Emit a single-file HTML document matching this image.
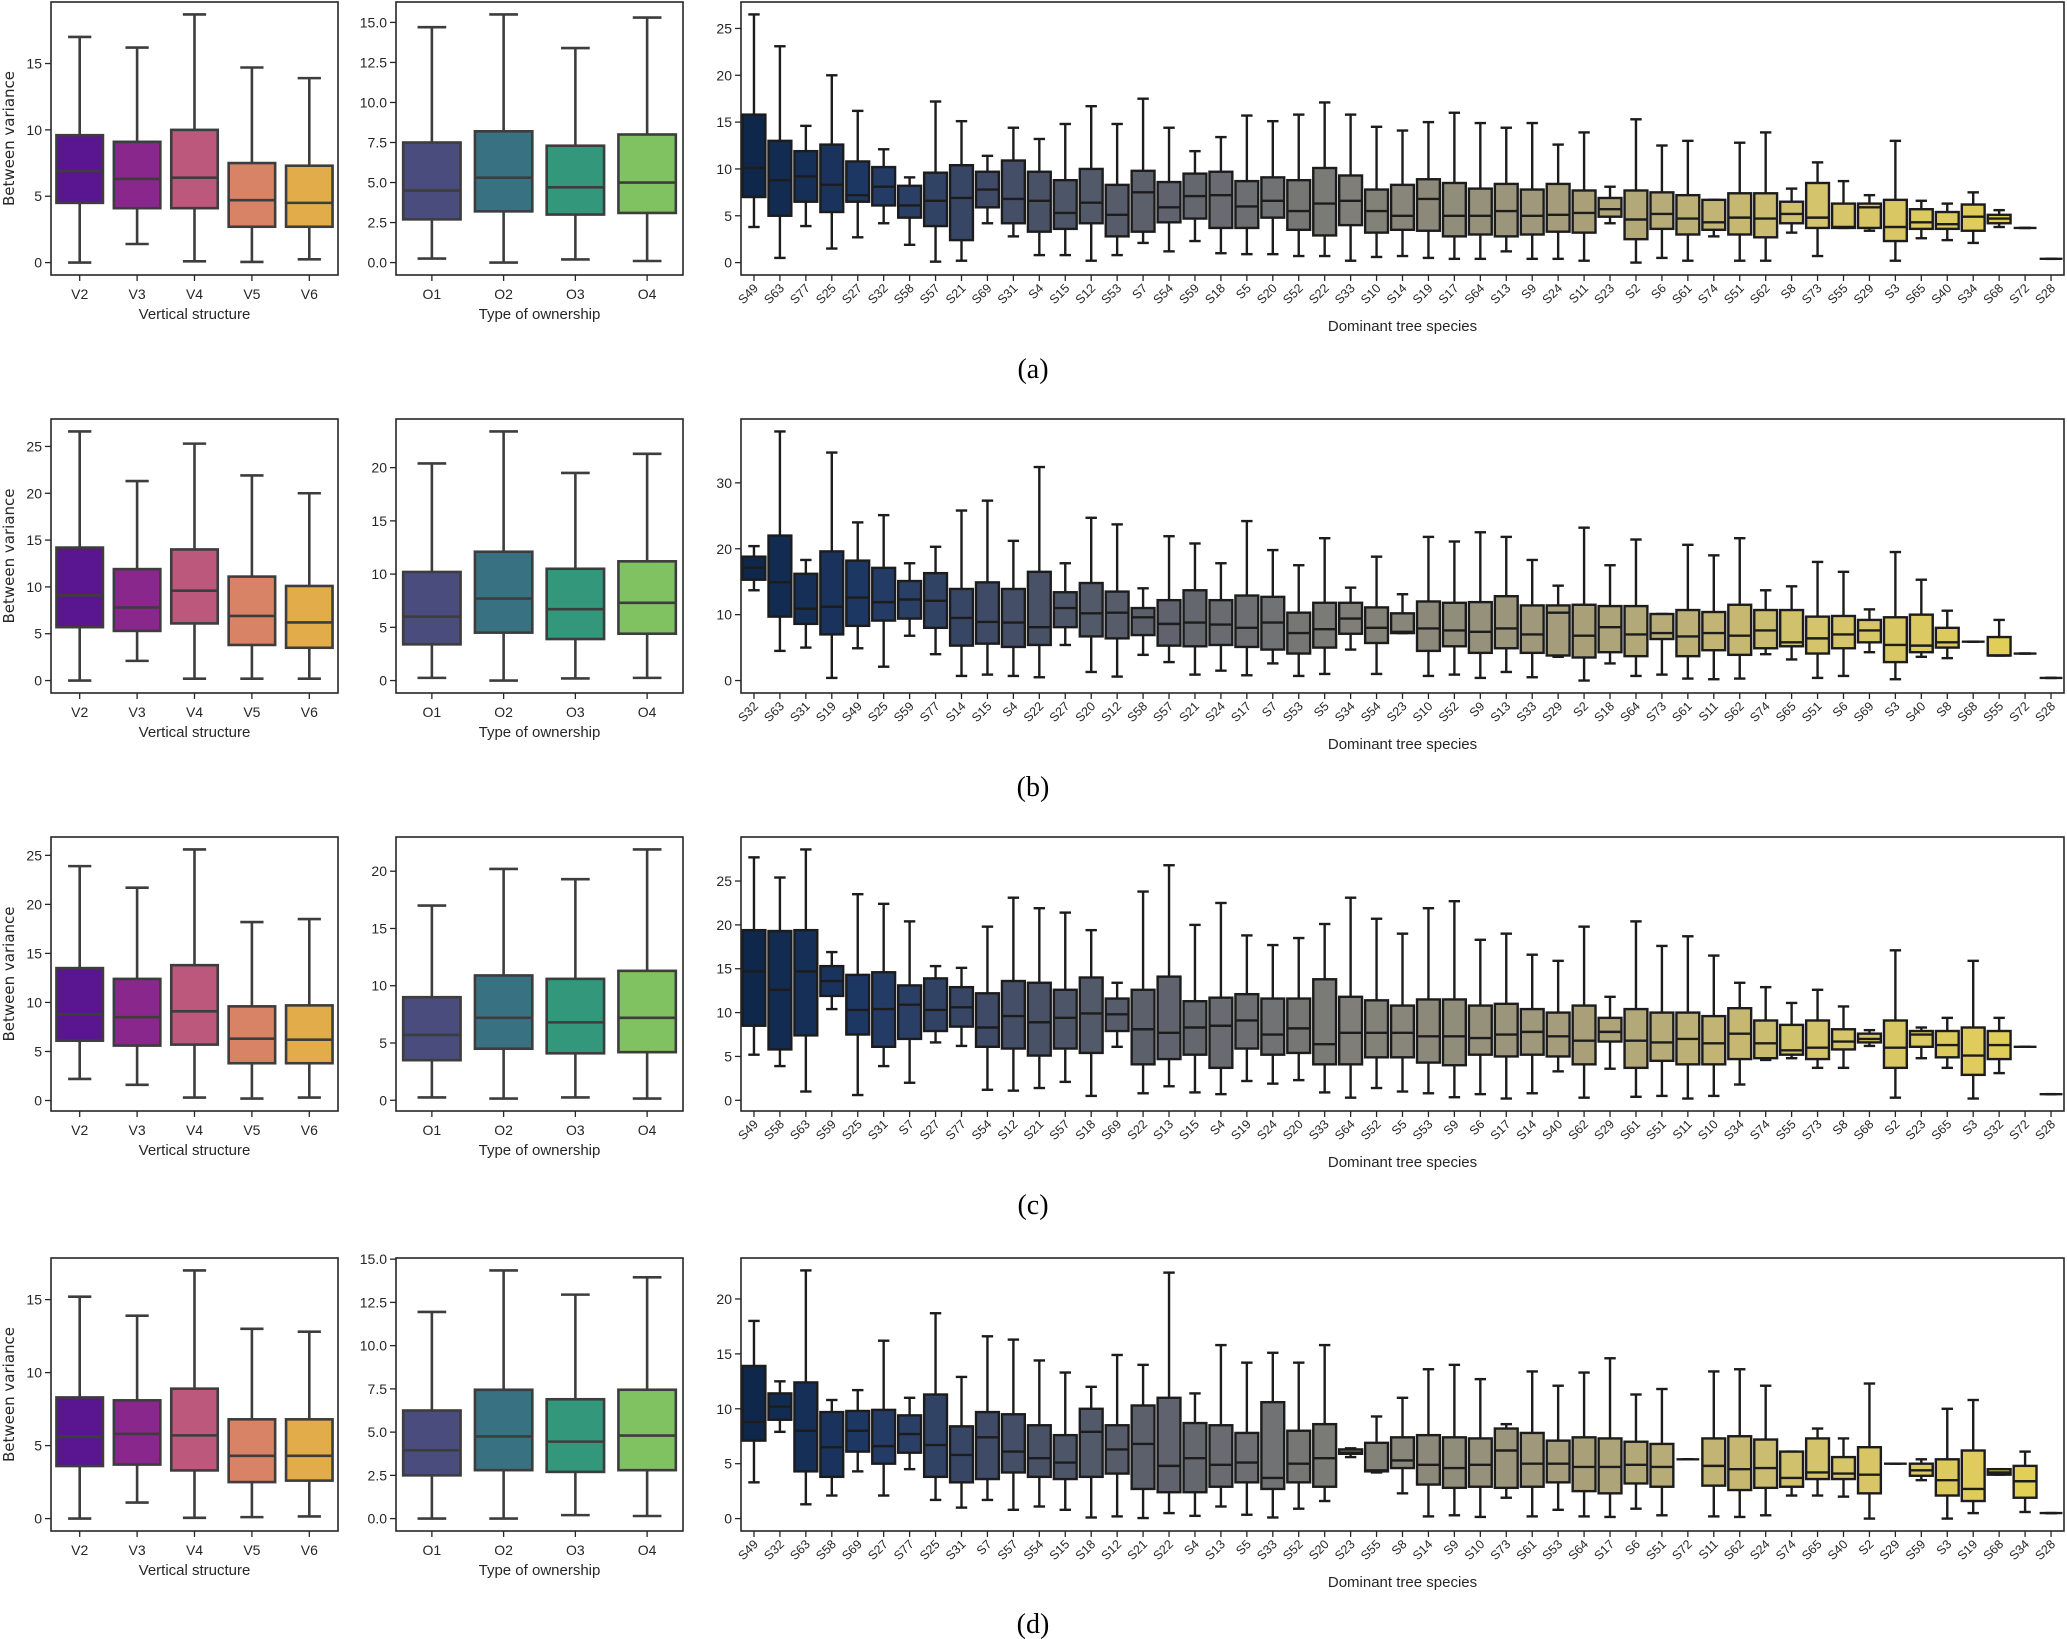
<!DOCTYPE html>
<html><head><meta charset="utf-8">
<style>
html,body{margin:0;padding:0;background:#fff;}
svg{display:block;}
text{font-family:"Liberation Sans","DejaVu Sans",sans-serif;fill:#262626;}
</style></head>
<body>
<svg id="fig" width="2067" height="1639" viewBox="0 0 2067 1639" xmlns="http://www.w3.org/2000/svg"></svg>
<script>
// ---------- DATA ----------
const vertCats = ["V2","V3","V4","V5","V6"];
const ownCats = ["O1","O2","O3","O4"];

// Row (a)
const vertA_low=[0,1.4,0.1,0.05,0.25], vertA_q1=[4.5,4.1,4.1,2.7,2.7], vertA_med=[6.9,6.3,6.4,4.7,4.5], vertA_q3=[9.6,9.1,10.0,7.5,7.3], vertA_high=[17.0,16.2,18.7,14.7,13.9];
const ownA_low=[0.25,0,0.2,0.1], ownA_q1=[2.7,3.2,3.0,3.1], ownA_med=[4.5,5.3,4.7,5.0], ownA_q3=[7.5,8.2,7.3,8.0], ownA_high=[14.7,15.5,13.4,15.3];
const spA=["S49","S63","S77","S25","S27","S32","S58","S57","S21","S69","S31","S4","S15","S12","S53","S7","S54","S59","S18","S5","S20","S52","S22","S33","S10","S14","S19","S17","S64","S13","S9","S24","S11","S23","S2","S6","S61","S74","S51","S62","S8","S73","S55","S29","S3","S65","S40","S34","S68","S72","S28"];
const spA_low=[3.8,0.5,3.9,1.5,2.7,4.2,1.9,0.1,0.2,4.2,2.8,0.8,0.8,0.2,0.8,2.1,1.2,2.3,1.0,0.9,0.9,0.7,0.7,0.2,0.6,0.7,0.5,0.4,0.4,1.2,0.4,0.4,0.2,4.2,0.0,0.5,0.2,2.8,0.2,0.2,3.2,0.7,3.7,3.4,0.2,2.6,2.4,2.1,3.8,3.7,0.4];
const spA_q1=[7.0,5.0,6.5,5.4,6.5,6.1,4.8,3.9,2.4,5.9,4.2,3.3,3.6,4.2,2.8,3.3,4.3,4.7,3.7,3.7,4.8,3.5,2.9,4.0,3.2,3.5,3.4,2.8,3.0,2.8,3.0,3.3,3.2,4.9,2.5,3.6,3.0,3.5,3.0,2.7,4.2,3.7,3.7,3.7,2.3,3.6,3.6,3.4,4.2,3.7,0.4];
const spA_med=[10.1,8.8,9.2,8.3,7.2,8.1,6.1,6.6,6.9,7.8,6.8,6.6,5.3,6.4,5.1,7.5,5.9,7.1,7.2,6.0,6.6,5.5,6.3,6.6,5.5,5.0,6.8,5.0,5.0,5.5,5.0,5.1,5.3,5.7,4.6,5.2,4.7,4.3,4.8,4.7,5.2,4.8,3.8,5.9,3.8,4.3,4.1,4.9,4.7,3.7,0.4];
const spA_q3=[15.8,13.0,11.9,12.6,10.8,10.2,8.2,9.6,10.4,9.7,10.9,9.7,8.8,10.0,8.3,9.8,8.6,9.5,9.7,8.7,9.1,8.8,10.1,9.3,7.8,8.3,8.9,8.5,7.9,8.4,7.8,8.4,7.7,6.9,7.7,7.5,7.2,6.7,7.4,7.4,6.5,8.5,6.3,6.3,6.7,5.7,5.4,6.2,5.1,3.7,0.4];
const spA_high=[26.5,23.1,14.6,20.0,16.2,12.1,9.1,17.2,15.1,11.4,14.4,13.2,14.8,16.7,14.8,17.5,14.4,11.9,13.4,15.7,15.1,15.8,17.1,15.8,14.5,14.1,15.0,16.0,14.9,14.4,14.9,12.6,13.9,8.1,15.3,12.5,13.0,6.7,12.8,13.9,7.9,10.7,8.7,7.2,13.0,6.6,6.3,7.5,5.6,3.7,0.4];

// Row (b)
const vertB_low=[0,2.1,0.2,0.2,0.2], vertB_q1=[5.7,5.3,6.1,3.8,3.5], vertB_med=[9.1,7.8,9.6,6.9,6.2], vertB_q3=[14.2,11.9,14.0,11.1,10.1], vertB_high=[26.6,21.3,25.3,21.9,20.0];
const ownB_low=[0.25,0,0.2,0.25], ownB_q1=[3.4,4.5,3.9,4.4], ownB_med=[6.0,7.7,6.7,7.3], ownB_q3=[10.2,12.1,10.5,11.2], ownB_high=[20.4,23.4,19.5,21.3];
const spB=["S32","S63","S31","S19","S49","S25","S59","S77","S14","S15","S4","S22","S27","S20","S12","S58","S57","S21","S24","S17","S7","S53","S5","S34","S54","S23","S10","S52","S9","S13","S33","S29","S2","S18","S64","S73","S61","S11","S62","S74","S65","S51","S6","S69","S3","S40","S8","S68","S55","S72","S28"];
const spB_low=[13.7,4.5,5.0,0.4,4.9,2.1,6.8,4.0,0.7,0.9,0.7,0.5,5.4,1.3,0.6,3.9,2.8,0.9,1.5,0.8,2.6,0.7,1.0,4.7,1.0,7.2,0.7,0.9,0.4,1.3,0.5,3.6,0.0,2.6,0.7,0.9,0.3,0.2,0.3,4.0,3.2,0.4,0.7,4.3,0.2,3.6,3.4,5.9,3.8,4.1,0.4];
const spB_q1=[15.3,9.7,8.6,7.0,8.3,9.1,9.4,8.0,5.3,5.6,5.1,5.4,8.1,6.7,6.4,6.9,5.3,5.2,5.4,5.1,4.7,4.1,5.0,7.1,5.7,7.2,4.5,5.2,4.2,4.9,4.2,3.8,3.5,4.3,3.7,6.3,3.7,4.6,3.9,4.9,5.2,4.1,4.9,5.8,2.8,4.3,5.0,5.9,3.8,4.1,0.4];
const spB_med=[17.1,14.9,10.9,11.2,12.6,11.9,12.3,12.1,9.5,8.9,8.8,8.1,11.0,10.2,10.3,9.6,8.6,8.8,8.5,8.0,8.8,7.2,7.8,9.4,8.0,7.4,7.9,7.6,7.4,7.9,7.0,10.3,6.8,8.1,7.0,7.2,6.7,7.2,6.8,7.6,5.8,6.4,7.0,7.6,5.4,5.3,5.8,5.9,3.8,4.1,0.4];
const spB_q3=[18.8,22.0,16.2,19.6,18.2,17.1,15.1,16.3,13.9,14.9,13.9,16.5,13.4,14.8,13.5,11.0,12.2,13.7,12.2,12.9,12.7,10.3,11.8,11.8,11.1,10.2,12.0,11.8,11.9,12.8,11.4,11.4,11.5,11.3,11.3,10.1,10.7,10.4,11.5,10.7,10.7,9.7,9.8,9.2,9.6,10.0,8.0,5.9,6.6,4.1,0.4];
const spB_high=[20.4,37.8,18.3,34.6,24.0,25.1,17.8,20.3,25.8,27.3,21.2,32.4,17.8,24.7,23.7,14.0,21.9,20.8,17.8,24.2,19.8,17.5,21.6,14.1,18.8,13.1,21.8,21.1,22.5,21.8,18.3,14.4,23.2,17.5,21.4,10.1,20.6,19.0,21.6,13.7,14.3,18.0,16.5,10.8,19.5,15.3,10.6,5.9,9.2,4.1,0.4];

// Row (c)
const vertC_low=[2.2,1.6,0.3,0.2,0.3], vertC_q1=[6.1,5.6,5.7,3.8,3.8], vertC_med=[8.8,8.5,9.1,6.3,6.2], vertC_q3=[13.5,12.4,13.8,9.6,9.7], vertC_high=[23.9,21.7,25.6,18.2,18.5];
const ownC_low=[0.25,0.15,0.25,0.15], ownC_q1=[3.5,4.5,4.1,4.2], ownC_med=[5.7,7.2,6.8,7.2], ownC_q3=[9.0,10.9,10.6,11.3], ownC_high=[17.0,20.2,19.3,21.9];
const spC=["S49","S58","S63","S59","S25","S31","S7","S27","S77","S54","S12","S21","S57","S18","S69","S22","S13","S15","S4","S19","S24","S20","S33","S64","S52","S5","S53","S9","S6","S17","S14","S40","S62","S29","S61","S51","S11","S10","S34","S74","S55","S73","S8","S68","S2","S23","S65","S3","S32","S72","S28"];
const spC_low=[5.2,3.9,1.0,10.4,0.6,3.9,2.0,6.6,6.2,1.2,1.1,1.4,2.1,0.5,6.1,0.8,1.6,0.9,0.7,2.2,1.9,2.3,0.9,0.3,1.4,1.0,0.8,0.35,0.7,0.2,0.8,3.3,0.3,3.6,0.4,0.5,0.2,0.5,1.8,4.6,4.8,3.7,3.7,6.2,0.3,4.8,3.7,0.2,3.1,6.1,0.7];
const spC_q1=[8.5,5.8,7.4,11.9,7.5,6.1,7.0,7.9,8.4,6.1,5.9,5.1,5.9,5.4,7.9,4.1,4.7,5.2,3.7,5.9,5.2,5.4,4.1,4.1,4.9,4.9,4.3,4.0,5.2,5.0,5.2,5.0,4.1,6.7,3.7,4.5,4.1,4.1,4.7,4.8,5.2,4.7,5.8,6.6,3.7,6.1,4.9,2.9,4.7,6.1,0.7];
const spC_med=[14.7,12.6,14.7,13.6,10.3,10.4,10.9,10.3,10.6,8.3,9.6,8.9,9.4,9.9,9.8,8.1,7.7,8.3,8.5,9.1,7.5,8.2,6.4,7.7,7.7,7.7,7.3,7.3,7.1,7.5,7.8,7.3,6.8,7.8,6.8,6.6,7.0,6.5,7.6,6.5,5.7,6.0,6.7,7.0,6.0,7.5,6.3,5.1,6.3,6.1,0.7];
const spC_q3=[19.4,19.3,19.4,15.3,14.3,14.6,13.1,13.9,12.9,12.2,13.6,13.4,12.6,14.0,11.6,12.6,14.1,11.3,11.7,12.1,11.6,11.6,13.8,11.8,11.4,10.8,11.5,11.5,10.8,11.0,10.4,10.0,10.8,9.4,10.4,10.0,10.0,9.6,10.5,9.1,8.6,9.1,8.1,7.6,9.1,7.9,7.9,8.3,7.9,6.1,0.7];
const spC_high=[27.7,25.4,28.6,16.9,23.5,22.4,20.4,15.3,15.1,19.8,23.1,21.9,21.4,19.4,13.4,23.8,26.8,20.0,22.5,18.8,17.7,18.5,20.1,23.1,20.7,19.0,21.9,22.7,18.3,19.0,16.6,15.9,19.8,11.8,20.4,17.6,18.7,16.5,13.4,12.9,11.1,12.6,10.7,8.0,17.1,8.3,9.4,15.9,9.4,6.1,0.7];

// Row (d)
const vertD_low=[0,1.1,0.05,0.1,0.15], vertD_q1=[3.6,3.7,3.3,2.5,2.6], vertD_med=[5.6,5.8,5.7,4.3,4.3], vertD_q3=[8.3,8.1,8.9,6.8,6.8], vertD_high=[15.2,13.9,17.0,13.0,12.8];
const ownD_low=[0,0,0.2,0.15], ownD_q1=[2.5,2.8,2.7,2.8], ownD_med=[3.95,4.75,4.45,4.8], ownD_q3=[6.25,7.45,6.9,7.45], ownD_high=[11.95,14.35,12.95,13.95];
const spD=["S49","S32","S63","S58","S69","S27","S77","S25","S31","S7","S57","S54","S15","S18","S12","S21","S22","S4","S13","S5","S33","S52","S20","S23","S55","S8","S14","S9","S10","S73","S61","S53","S64","S17","S6","S51","S72","S11","S62","S24","S74","S65","S40","S2","S29","S59","S3","S19","S68","S34","S28"];
const spD_low=[3.3,7.9,1.3,2.1,4.3,2.1,4.5,1.7,1.0,1.7,0.8,1.1,0.8,0.1,0.2,0.05,0.5,0.25,1.1,0.35,0.1,0.9,1.6,5.6,4.2,2.3,0.2,0.3,0.15,1.9,0.2,0.8,0.2,0.15,0.9,0.3,5.4,0.2,0.15,0.3,2.1,2.1,2.0,0.0,5.0,3.5,0.0,0.5,4.0,0.6,0.5];
const spD_q1=[7.1,9.0,4.3,3.8,6.1,5.0,6.0,3.8,3.3,3.6,4.2,3.8,3.6,3.8,4.1,2.7,2.4,2.4,2.9,3.3,2.7,3.3,2.9,5.9,4.3,4.6,3.1,2.8,2.9,2.8,2.9,3.3,2.5,2.3,3.2,2.9,5.4,3.0,2.6,2.8,2.9,3.6,3.6,2.3,5.0,3.9,2.1,1.6,4.0,1.9,0.5];
const spD_med=[8.8,10.2,8.0,6.5,8.0,6.6,7.7,6.7,5.8,7.4,6.1,5.5,5.1,7.9,6.3,6.8,4.8,5.5,4.9,5.1,3.7,5.0,5.5,6.0,4.4,5.3,4.9,4.6,4.9,6.2,5.0,5.0,4.7,4.7,4.9,4.7,5.4,4.8,4.5,4.6,3.7,4.2,4.1,4.0,5.0,4.4,3.5,2.7,4.2,3.4,0.5];
const spD_q3=[13.9,11.4,12.4,9.7,9.8,9.9,9.4,11.3,8.4,9.7,9.5,8.5,7.6,10.0,8.5,10.3,11.0,8.7,8.5,7.8,10.6,8.0,8.6,6.3,6.9,7.4,7.6,7.4,7.3,8.2,7.8,7.1,7.4,7.3,7.0,6.8,5.4,7.3,7.5,7.2,6.1,7.3,5.6,6.5,5.0,5.0,5.4,6.2,4.5,4.8,0.5];
const spD_high=[18.0,12.5,22.6,10.8,11.7,16.2,11.0,18.7,12.9,16.6,16.3,14.4,13.3,12.0,14.9,14.0,22.4,11.4,15.8,14.2,15.1,14.2,15.8,6.4,9.3,11.0,13.6,14.0,12.7,8.6,13.4,12.1,13.3,14.6,11.3,11.8,5.4,13.4,13.6,12.1,6.1,8.2,7.3,12.3,5.0,5.4,10.0,10.8,4.5,6.1,0.5];

// Tick labels
const ticksA1=[0,5,10,15], ticksA2=["0.0","2.5","5.0","7.5","10.0","12.5","15.0"], ticksA3=[0,5,10,15,20,25];
const ticksB1=[0,5,10,15,20,25], ticksB2=[0,5,10,15,20], ticksB3=[0,10,20,30];
const ticksC1=[0,5,10,15,20,25], ticksC2=[0,5,10,15,20], ticksC3=[0,5,10,15,20,25];
const ticksD1=[0,5,10,15], ticksD2=["0.0","2.5","5.0","7.5","10.0","12.5","15.0"], ticksD3=[0,5,10,15,20];

// ---------- COLORS ----------
const plasmaStops=["#0d0887","#41049d","#6a00a8","#8f0da4","#b12a90","#cc4778","#e16462","#f2844b","#fca636","#fcce25","#f0f921"];
const viridisStops=["#440154","#482475","#414487","#355f8d","#2a788e","#21918c","#22a884","#44bf70","#7ad151","#bddf26","#fde725"];
const cividisStops=["#00224e","#123570","#3b496c","#575d6d","#707173","#8a8779","#a69d75","#c4b56c","#e4cf5b","#f2d84a","#fee838"];
function hex2rgb(h){return [parseInt(h.slice(1,3),16)/255,parseInt(h.slice(3,5),16)/255,parseInt(h.slice(5,7),16)/255];}
function cmap(stops,t){const n=stops.length-1;let i=Math.min(n-1,Math.floor(t*n));const f=t*n-i;const a=hex2rgb(stops[i]),b=hex2rgb(stops[i+1]);return a.map((v,k)=>v+(b[k]-v)*f);}
function desat(rgb,p){const [r,g,b]=rgb;const mx=Math.max(r,g,b),mn=Math.min(r,g,b);const l=(mx+mn)/2;let h=0,s=0;
 if(mx!==mn){const d=mx-mn;s=l>0.5?d/(2-mx-mn):d/(mx+mn);
  if(mx===r)h=((g-b)/d+(g<b?6:0));else if(mx===g)h=(b-r)/d+2;else h=(r-g)/d+4;h/=6;}
 s*=p;const q=l<0.5?l*(1+s):l+s-l*s,pp=2*l-q;
 function hue(t){if(t<0)t+=1;if(t>1)t-=1;if(t<1/6)return pp+(q-pp)*6*t;if(t<1/2)return q;if(t<2/3)return pp+(q-pp)*(2/3-t)*6;return pp;}
 const out=s===0?[l,l,l]:[hue(h+1/3),hue(h),hue(h-1/3)];
 return "rgb("+out.map(v=>Math.round(v*255)).join(",")+")";}
function palette(stops,n){const r=[];for(let i=0;i<n;i++){r.push(desat(cmap(stops,(i+1)/(n+1)),0.75));}return r;}

// ---------- DRAW ----------
const NS="http://www.w3.org/2000/svg";
const svg=document.getElementById("fig");
function mk(tag,attrs,parent){const e=document.createElementNS(NS,tag);for(const k in attrs)e.setAttribute(k,attrs[k]);(parent||svg).appendChild(e);return e;}

function drawPanel(cfg){
 const {x0,x1,y0,y1,cats,low,q1,med,q3,high,ticks,colors,xlabel,ylabel,rotate,name,boxW,lw,lc}=cfg;
 const g=mk("g",{});
 
 
 let dmin=Math.min(...low),dmax=Math.max(...high);const span=dmax-dmin;
 const vmin=dmin-0.05*span,vmax=dmax+0.05*span;
 const Y=v=>y1-(v-vmin)/(vmax-vmin)*(y1-y0);
 const step=(x1-x0)/cats.length;const X=i=>x0+step*(i+0.5);
 ticks.forEach(t=>{const v=parseFloat(t);const yy=Y(v);
  const tl=mk("line",{x1:x0-6,x2:x0,y1:yy,y2:yy,stroke:"#262626","stroke-width":1.3},g);
  
  
  const tx=mk("text",{x:x0-9,y:yy+5,"text-anchor":"end","font-size":14},g);tx.textContent=t;
  
  
 });
 cats.forEach((c,i)=>{const cx=X(i);const bw=step*boxW;const cw=bw*0.5;
  const bg=mk("g",{},g);
  
  
  const s={stroke:lc,"stroke-width":lw,fill:"none"};
  mk("line",Object.assign({x1:cx,x2:cx,y1:Y(q3[i]),y2:Y(high[i])},s),bg);
  mk("line",Object.assign({x1:cx,x2:cx,y1:Y(q1[i]),y2:Y(low[i])},s),bg);
  mk("line",Object.assign({x1:cx-cw/2,x2:cx+cw/2,y1:Y(high[i]),y2:Y(high[i])},s),bg);
  mk("line",Object.assign({x1:cx-cw/2,x2:cx+cw/2,y1:Y(low[i]),y2:Y(low[i])},s),bg);
  const top=Y(q3[i]),bot=Y(q1[i]);
  mk("rect",{x:cx-bw/2,y:top,width:bw,height:Math.max(0,bot-top),fill:colors[i],stroke:lc,"stroke-width":lw},bg);
  mk("line",Object.assign({x1:cx-bw/2,x2:cx+bw/2,y1:Y(med[i]),y2:Y(med[i])},s),bg);
  mk("line",{x1:cx,x2:cx,y1:y1,y2:y1+6,stroke:"#262626","stroke-width":1.3},g);
  let lab;
  if(rotate){lab=mk("text",{x:cx+5,y:y1+14,"text-anchor":"end","font-size":12.5,transform:"rotate(-45 "+(cx+5)+" "+(y1+14)+")"},g);}
  else{lab=mk("text",{x:cx,y:y1+24,"text-anchor":"middle","font-size":14},g);}
  lab.textContent=c;
  
  
 });
 const fr=mk("rect",{x:x0,y:y0,width:x1-x0,height:y1-y0,fill:"none",stroke:"#262626","stroke-width":1.6},g);
 
 
 const xl=mk("text",{x:(x0+x1)/2,y:rotate?y1+56:y1+44,"text-anchor":"middle","font-size":15},g);xl.textContent=xlabel;
 
 
 if(ylabel){const cy=(y0+y1)/2;const yl=mk("text",{x:14,y:cy,"text-anchor":"middle","font-size":15,transform:"rotate(-90 14 "+cy+")",style:"font-family:'DejaVu Sans',sans-serif"},g);yl.textContent=ylabel;
  
  }
}

const vertColors=palette(plasmaStops,5), ownColors=palette(viridisStops,4);
const rows=[
 {y0:2,y1:275,cap:"(a)",capY:378,v:[vertA_low,vertA_q1,vertA_med,vertA_q3,vertA_high],o:[ownA_low,ownA_q1,ownA_med,ownA_q3,ownA_high],sp:spA,s:[spA_low,spA_q1,spA_med,spA_q3,spA_high],t:[ticksA1,ticksA2,ticksA3]},
 {y0:419,y1:693,cap:"(b)",capY:796,v:[vertB_low,vertB_q1,vertB_med,vertB_q3,vertB_high],o:[ownB_low,ownB_q1,ownB_med,ownB_q3,ownB_high],sp:spB,s:[spB_low,spB_q1,spB_med,spB_q3,spB_high],t:[ticksB1,ticksB2,ticksB3]},
 {y0:837,y1:1111,cap:"(c)",capY:1214,v:[vertC_low,vertC_q1,vertC_med,vertC_q3,vertC_high],o:[ownC_low,ownC_q1,ownC_med,ownC_q3,ownC_high],sp:spC,s:[spC_low,spC_q1,spC_med,spC_q3,spC_high],t:[ticksC1,ticksC2,ticksC3]},
 {y0:1258,y1:1531,cap:"(d)",capY:1633,v:[vertD_low,vertD_q1,vertD_med,vertD_q3,vertD_high],o:[ownD_low,ownD_q1,ownD_med,ownD_q3,ownD_high],sp:spD,s:[spD_low,spD_q1,spD_med,spD_q3,spD_high],t:[ticksD1,ticksD2,ticksD3]}
];
rows.forEach((r,ri)=>{
 const tag="abcd"[ri];
 drawPanel({x0:51,x1:338,y0:r.y0,y1:r.y1,cats:vertCats,low:r.v[0],q1:r.v[1],med:r.v[2],q3:r.v[3],high:r.v[4],ticks:r.t[0],colors:vertColors,xlabel:"Vertical structure",ylabel:"Between variance",rotate:false,name:"vertical-structure-panel-"+tag,boxW:0.81,lw:2.6,lc:"#3d3d3d"});
 drawPanel({x0:396,x1:683,y0:r.y0,y1:r.y1,cats:ownCats,low:r.o[0],q1:r.o[1],med:r.o[2],q3:r.o[3],high:r.o[4],ticks:r.t[1],colors:ownColors,xlabel:"Type of ownership",ylabel:null,rotate:false,name:"ownership-panel-"+tag,boxW:0.8,lw:2.6,lc:"#3d3d3d"});
 drawPanel({x0:741,x1:2064,y0:r.y0,y1:r.y1,cats:r.sp,low:r.s[0],q1:r.s[1],med:r.s[2],q3:r.s[3],high:r.s[4],ticks:r.t[2],colors:palette(cividisStops,r.sp.length),xlabel:"Dominant tree species",ylabel:null,rotate:true,name:"species-panel-"+tag,boxW:0.88,lw:2.4,lc:"#1c1c1c"});
 const c=mk("text",{x:1033,y:r.capY,"text-anchor":"middle","font-size":28,style:"font-family:'Liberation Serif',serif;fill:#000"});
 c.textContent=r.cap;
 
 
});
</script>
</body></html>
